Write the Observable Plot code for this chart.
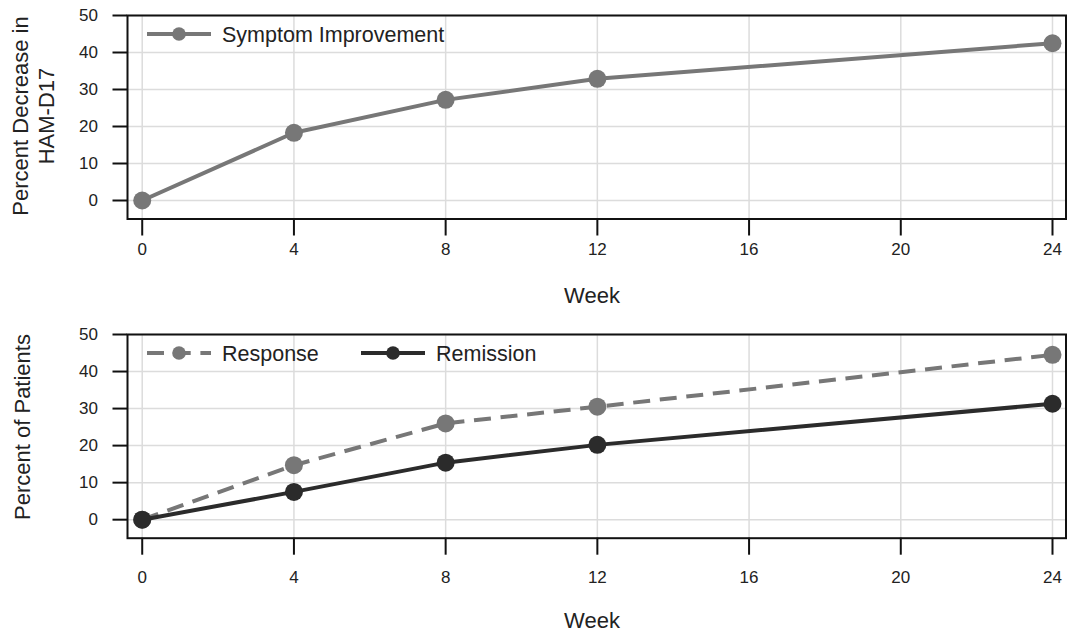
<!DOCTYPE html>
<html>
<head>
<meta charset="utf-8">
<script src="https://cdn.jsdelivr.net/npm/d3@7"></script>
<script src="https://cdn.jsdelivr.net/npm/@observablehq/plot@0.6"></script>
<style>
  html, body { margin: 0; padding: 0; background: #fff; overflow: hidden; }
  #chart svg { display: block; }
</style>
</head>
<body>
<div id="chart"></div>
<script>
const weeks = [0, 4, 8, 12, 24];
const symptom = [0, 18.3, 27.2, 32.9, 42.5];
const response = [0, 14.7, 26.0, 30.5, 44.5];
const remission = [0, 7.5, 15.4, 20.2, 31.3];
const xTicks = [0, 4, 8, 12, 16, 20, 24];
const yTicks = [0, 10, 20, 30, 40, 50];

const FONT = "'Liberation Sans', Arial, Helvetica, sans-serif";

function rows(vals) { return weeks.map((w, i) => ({week: w, value: vals[i]})); }

function panel({height, marginTop, marginBottom, series, ylabel, ylabelX, ylabelY, weekY, xPad}) {
  const marks = [
    Plot.gridX(xTicks, {stroke: "#dcdcdc", strokeOpacity: 1, strokeWidth: 1.5}),
    Plot.gridY(yTicks, {stroke: "#dcdcdc", strokeOpacity: 1, strokeWidth: 1.5}),
    Plot.axisX(xTicks, {tickSize: 17, tickPadding: xPad, stroke: "#111", strokeWidth: 2, fontSize: 17, label: null, fill: "#222"}),
    Plot.axisY(yTicks, {tickSize: 14.5, tickPadding: 15, stroke: "#111", strokeWidth: 2, fontSize: 17, label: null, fill: "#222"}),
    Plot.frame({stroke: "#111", strokeWidth: 2})
  ];
  for (const s of series) {
    marks.push(Plot.line(rows(s.values), {x: "week", y: "value", stroke: s.color, strokeWidth: 4,
      strokeDasharray: s.dash || null, strokeLinecap: s.dash ? "butt" : "round"}));
    marks.push(Plot.dot(rows(s.values), {x: "week", y: "value", fill: s.color, r: 9}));
  }
  const svg = Plot.plot({
    width: 1067, height, marginLeft: 127, marginRight: 1.5, marginTop, marginBottom,
    style: {fontFamily: FONT, fontSize: "17px", background: "white", color: "#222"},
    x: {domain: [-0.388, 24.356]},
    y: {domain: [-5, 50]},
    marks
  });
  const sel = d3.select(svg);
  const lg = sel.append("g").attr("text-anchor", "start");
  series.forEach((s) => {
    const g = lg.append("g");
    g.append("line").attr("x1", s.lx).attr("x2", s.lx + 64).attr("y1", 34).attr("y2", 34)
      .attr("stroke", s.color).attr("stroke-width", 4).attr("stroke-dasharray", s.dash || null);
    g.append("circle").attr("cx", s.lx + 32).attr("cy", 34).attr("r", 6.8).attr("fill", s.color);
    g.append("text").attr("x", s.lx + 75).attr("y", 34).attr("dy", "0.35em").attr("text-anchor", "start")
      .attr("font-family", FONT).attr("font-size", "21.5px").attr("fill", "#222").text(s.name);
  });
  const yt = sel.append("text").attr("transform", `translate(${ylabelX},${ylabelY}) rotate(-90)`)
    .attr("text-anchor", "middle").attr("font-family", FONT).attr("font-size", "22px").attr("fill", "#222");
  ylabel.forEach((t, i) => {
    yt.append("tspan").attr("x", 0).attr("dy", i === 0 ? "0.35em" : "1.18em").text(t);
  });
  sel.append("text").attr("x", 592).attr("y", weekY).attr("dy", "0.35em").attr("text-anchor", "middle")
    .attr("font-family", FONT).attr("font-size", "22px").attr("fill", "#222").text("Week");
  return svg;
}

const topPanel = panel({
  height: 319, marginTop: 15, marginBottom: 100.5, xPad: 7,
  series: [{name: "Symptom Improvement", values: symptom, color: "#777777", lx: 147}],
  ylabel: ["Percent Decrease in", "HAM-D17"], ylabelX: 20, ylabelY: 116, weekY: 295
});
const bottomPanel = panel({
  height: 313, marginTop: 15, marginBottom: 94.3, xPad: 16,
  series: [
    {name: "Response", values: response, color: "#777777", dash: "17,9.7", lx: 147},
    {name: "Remission", values: remission, color: "#2b2b2b", lx: 361}
  ],
  ylabel: ["Percent of Patients"], ylabelX: 22, ylabelY: 108, weekY: 301
});
document.getElementById("chart").append(topPanel, bottomPanel);
</script>
</body>
</html>
